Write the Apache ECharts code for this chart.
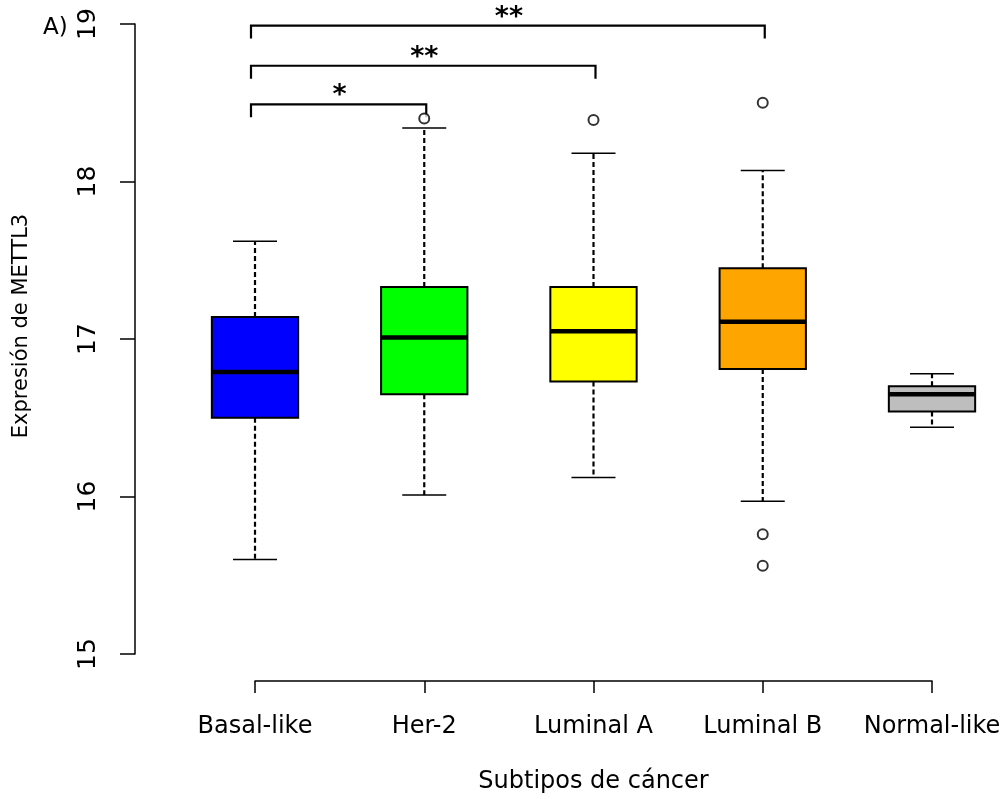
<!DOCTYPE html>
<html>
<head>
<meta charset="utf-8">
<script src="https://cdn.jsdelivr.net/npm/echarts@6/dist/echarts.min.js"></script>
<style>
  html, body { margin: 0; padding: 0; background: #fff; }
  #chart { width: 1005px; height: 799px; }
</style>
</head>
<body>
<div id="chart"></div>
<script>
// categorías (subtipos)
const subtipos = ['Basal-like', 'Her-2', 'Luminal A', 'Luminal B', 'Normal-like'];
const colores = ['#0000FF', '#00FF00', '#FFFF00', '#FFA500', '#BEBEBE'];
// [bigote inf, Q1, mediana, Q3, bigote sup]
const cajas = [
  [15.60, 16.50, 16.79, 17.14, 17.62],
  [16.01, 16.65, 17.01, 17.33, 18.34],
  [16.12, 16.73, 17.05, 17.33, 18.18],
  [15.97, 16.81, 17.11, 17.45, 18.07],
  [16.44, 16.54, 16.65, 16.70, 16.78]
];
// valores atípicos [subtipo (1..5), valor]
const atipicos = [
  [2, 18.40],
  [3, 18.39],
  [4, 18.50],
  [4, 15.76],
  [4, 15.56]
];
// comparaciones significativas [desde, hasta, altura, etiqueta]
const comparaciones = [
  [1, 4, 18.99, '**'],
  [1, 3, 18.735, '**'],
  [1, 2, 18.49, '*']
];
const yTicks = [15, 16, 17, 18, 19];

const fuente = 'DejaVu Sans';
const myChart = echarts.init(document.getElementById('chart'));

const boxData = cajas.map((c, i) => [i + 1].concat(c));

const options = {
  animation: false,
  backgroundColor: '#ffffff',
  textStyle: { fontFamily: fuente, color: '#000' },
  title: {
    text: 'A)',
    left: 38,
    top: 12,
    textStyle: { fontFamily: fuente, fontSize: 23, fontWeight: 'normal', color: '#000' }
  },
  grid: { left: 255, right: 73, top: 24, bottom: 145 },
  xAxis: {
    type: 'value',
    min: 1,
    max: 5,
    interval: 1,
    offset: 27,
    name: 'Subtipos de cáncer',
    nameLocation: 'middle',
    nameGap: 89,
    nameTextStyle: { fontFamily: fuente, fontSize: 24, color: '#000' },
    axisLine: { show: true, lineStyle: { color: '#000', width: 1.5 } },
    axisTick: { show: true, length: 12, lineStyle: { color: '#000', width: 1.5 } },
    splitLine: { show: false },
    axisLabel: {
      fontFamily: fuente,
      fontSize: 24,
      color: '#000',
      margin: 34,
      formatter: v => subtipos[v - 1] || ''
    }
  },
  yAxis: {
    type: 'value',
    min: 15,
    max: 19,
    interval: 1,
    offset: 120,
    name: 'Expresión de METTL3',
    nameLocation: 'middle',
    nameGap: 103,
    nameRotate: 90,
    nameTextStyle: { fontFamily: fuente, fontSize: 21, color: '#000', padding: [0, 0, 0, 26] },
    axisLine: { show: true, lineStyle: { color: '#000', width: 1.5 } },
    axisTick: { show: true, length: 15, lineStyle: { color: '#000', width: 1.5 } },
    splitLine: { show: false },
    axisLabel: {
      fontFamily: fuente,
      fontSize: 25,
      color: '#000',
      rotate: 90,
      margin: 34,
      formatter: v => yTicks.indexOf(v) >= 0 ? String(v) : ''
    }
  },
  series: [
    {
      // cajas dibujadas con las escalas del eje
      type: 'custom',
      data: boxData,
      encode: { x: 0, y: [1, 2, 3, 4, 5] },
      renderItem: function (params, api) {
        const x = api.value(0);
        const lo = api.coord([x, api.value(1)]);
        const q1 = api.coord([x, api.value(2)]);
        const med = api.coord([x, api.value(3)]);
        const q3 = api.coord([x, api.value(4)]);
        const hi = api.coord([x, api.value(5)]);
        const unit = api.size([1, 0])[0];
        const bw = unit * 0.51;
        const cw = unit * 0.26;
        const cx = lo[0];
        const dash = { stroke: '#000', lineWidth: 2.2, lineDash: [5, 3] };
        const solid = { stroke: '#000', lineWidth: 1.5 };
        return {
          type: 'group',
          children: [
            { type: 'line', shape: { x1: cx, y1: q3[1], x2: cx, y2: hi[1] }, style: dash },
            { type: 'line', shape: { x1: cx, y1: q1[1], x2: cx, y2: lo[1] }, style: dash },
            { type: 'line', shape: { x1: cx - cw / 2, y1: hi[1], x2: cx + cw / 2, y2: hi[1] }, style: solid },
            { type: 'line', shape: { x1: cx - cw / 2, y1: lo[1], x2: cx + cw / 2, y2: lo[1] }, style: solid },
            {
              type: 'rect',
              shape: { x: cx - bw / 2, y: q3[1], width: bw, height: q1[1] - q3[1] },
              style: { fill: colores[params.dataIndex], stroke: '#000', lineWidth: 2 }
            },
            { type: 'line', shape: { x1: cx - bw / 2, y1: med[1], x2: cx + bw / 2, y2: med[1] }, style: { stroke: '#000', lineWidth: 4.5 } }
          ]
        };
      }
    },
    {
      type: 'scatter',
      data: atipicos,
      symbol: 'circle',
      symbolSize: 10,
      itemStyle: { color: '#fff', borderColor: '#000', borderWidth: 2 }
    },
    {
      // corchetes de significancia
      type: 'custom',
      data: comparaciones,
      encode: { x: [0, 1], y: 2 },
      renderItem: function (params, api) {
        const a = api.coord([api.value(0), api.value(2)]);
        const b = api.coord([api.value(1), api.value(2)]);
        const leg = 13;
        const label = comparaciones[params.dataIndex][3];
        return {
          type: 'group',
          children: [
            {
              type: 'polyline',
              shape: { points: [[a[0] - 4, a[1] + leg], [a[0] - 4, a[1]], [b[0] + 2, b[1]], [b[0] + 2, b[1] + leg]] },
              style: { stroke: '#000', lineWidth: 2.2, fill: null }
            },
            {
              type: 'text',
              x: (a[0] + b[0]) / 2,
              y: a[1] - 8,
              style: {
                text: label,
                fontFamily: fuente,
                fontSize: 27,
                fontWeight: 'bold',
                fill: '#000',
                align: 'center',
                verticalAlign: 'middle'
              }
            }
          ]
        };
      }
    }
  ]
};
myChart.setOption(options);
</script>
</body>
</html>
